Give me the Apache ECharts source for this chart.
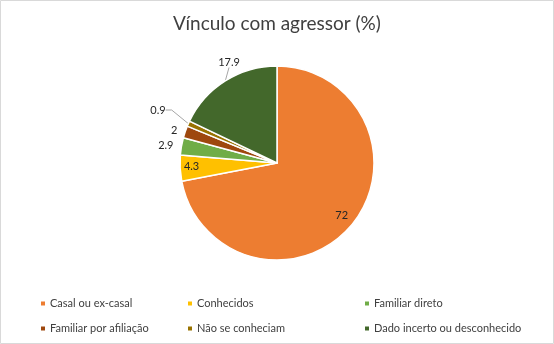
<!DOCTYPE html>
<html><head><meta charset="utf-8">
<script src="https://cdn.jsdelivr.net/npm/echarts@6/dist/echarts.min.js"></script>
<style>html,body{margin:0;padding:0;background:#fff}#c{width:554px;height:344px}</style>
</head><body><div id="c"></div>
<script>
const categories = ["Casal ou ex-casal","Conhecidos","Familiar direto","Familiar por afiliação","Não se conheciam","Dado incerto ou desconhecido"];
const values = [72, 4.3, 2.9, 2, 0.9, 17.9];
const colors = ["#ED7D31","#FFC000","#70AD47","#9E480E","#997300","#43682B"];
const FONT = "Lato";
const labelCfg = [
  {position:'inside', offset:[25,20]},
  {position:'inside', offset:[-34,1]},
  {position:'outside', line:false, length:3, length2:0},
  {position:'outside', line:false, length:3, length2:0},
  {position:'outside', line:true, length:12, length2:6},
  {position:'outside', line:true, length:12, length2:0}
];
const data = categories.map((n,i)=>{
  const c = labelCfg[i];
  const d = {name:n, value:values[i], itemStyle:{color:colors[i]},
    label:{position:c.position, offset:c.offset||[0,0]}};
  if(c.position==='outside'){
    d.labelLine = {show:c.line, length:c.length, length2:c.length2, lineStyle:{color:'#a6a6a6', width:1}};
  }
  return d;
});
const chart = echarts.init(document.getElementById('c'));
const mkLegend = (names,left)=>({
  data:names, left:left, top:293, orient:'vertical', itemWidth:6, itemHeight:6, itemGap:14,
  icon:'rect', textStyle:{fontFamily:FONT, fontSize:11, color:'#404040', padding:[0,0,0,-1]},
  selectedMode:false
});
chart.setOption({
  animation:false,
  title:{text:"Vínculo com agressor (%)", left:'center', top:9,
    textStyle:{fontFamily:FONT, fontSize:19, fontWeight:'normal', color:'#404040'}},
  legend:[
    mkLegend([categories[0],categories[3]],34),
    mkLegend([categories[1],categories[4]],181),
    mkLegend([categories[2],categories[5]],358)
  ],
  series:[{
    type:'pie', center:[277,163], radius:97, startAngle:90, clockwise:true,
    avoidLabelOverlap:false,
    itemStyle:{borderColor:'#fff', borderWidth:1.5},
    label:{fontFamily:FONT, fontSize:11, color:'#262626', formatter:'{c}'},
    labelLine:{show:false},
    labelLayout:function(p){
      if(p.dataIndex===5) return {x:229, y:62, align:'center', verticalAlign:'middle'};
      if(p.dataIndex===4) return {x:158, y:110, align:'center', verticalAlign:'middle'};
      return {};
    },
    data:data
  }],
  graphic:[{type:'rect', shape:{x:0.5,y:0.5,width:553,height:343},
    style:{fill:null, stroke:'#d9d9d9', lineWidth:1}, silent:true}]
});
</script></body></html>
